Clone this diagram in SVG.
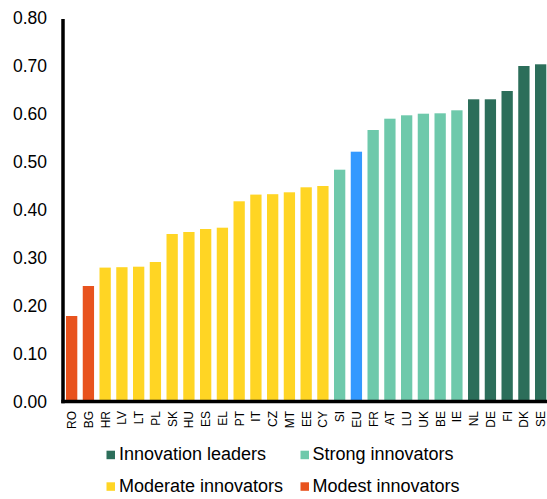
<svg xmlns="http://www.w3.org/2000/svg" width="547" height="499" viewBox="0 0 547 499">
<style>
text{font-family:"Liberation Sans",Arial,sans-serif;fill:#000}
.tick{font-size:17.5px;text-anchor:end}
.cat{font-size:12px;text-anchor:end}
.leg{font-size:18px}
.ax{stroke:#000;stroke-width:3.5;fill:none}
.lead{fill:#2C6E5A}.strong{fill:#6EC9AB}.mod{fill:#FFD524}.modest{fill:#E8531E}.eu{fill:#3399FF}
</style>
<rect width="547" height="499" fill="#fff"/>
<g id="yticks">
<text class="tick" x="47" y="408">0.00</text>
<text class="tick" x="47" y="360">0.10</text>
<text class="tick" x="47" y="312">0.20</text>
<text class="tick" x="47" y="264">0.30</text>
<text class="tick" x="47" y="216">0.40</text>
<text class="tick" x="47" y="168">0.50</text>
<text class="tick" x="47" y="120">0.60</text>
<text class="tick" x="47" y="72">0.70</text>
<text class="tick" x="47" y="24">0.80</text>
</g>
<g id="bars">
<g id="RO"><rect class="modest" x="66" y="316" width="11.3" height="86"/><text class="cat" transform="translate(76,411) rotate(-90)">RO</text></g>
<g id="BG"><rect class="modest" x="82.75" y="286" width="11.3" height="116"/><text class="cat" transform="translate(92.75,411) rotate(-90)">BG</text></g>
<g id="HR"><rect class="mod" x="99.5" y="267.6" width="11.3" height="134.4"/><text class="cat" transform="translate(109.5,411) rotate(-90)">HR</text></g>
<g id="LV"><rect class="mod" x="116.25" y="267.2" width="11.3" height="134.8"/><text class="cat" transform="translate(126.25,411) rotate(-90)">LV</text></g>
<g id="LT"><rect class="mod" x="133" y="266.7" width="11.3" height="135.3"/><text class="cat" transform="translate(143,411) rotate(-90)">LT</text></g>
<g id="PL"><rect class="mod" x="149.75" y="262" width="11.3" height="140"/><text class="cat" transform="translate(159.75,411) rotate(-90)">PL</text></g>
<g id="SK"><rect class="mod" x="166.5" y="234" width="11.3" height="168"/><text class="cat" transform="translate(176.5,411) rotate(-90)">SK</text></g>
<g id="HU"><rect class="mod" x="183.25" y="232" width="11.3" height="170"/><text class="cat" transform="translate(193.25,411) rotate(-90)">HU</text></g>
<g id="ES"><rect class="mod" x="200" y="229" width="11.3" height="173"/><text class="cat" transform="translate(210,411) rotate(-90)">ES</text></g>
<g id="EL"><rect class="mod" x="216.75" y="227.7" width="11.3" height="174.3"/><text class="cat" transform="translate(226.75,411) rotate(-90)">EL</text></g>
<g id="PT"><rect class="mod" x="233.5" y="201.3" width="11.3" height="200.7"/><text class="cat" transform="translate(243.5,411) rotate(-90)">PT</text></g>
<g id="IT"><rect class="mod" x="250.25" y="194.6" width="11.3" height="207.4"/><text class="cat" transform="translate(260.25,411) rotate(-90)">IT</text></g>
<g id="CZ"><rect class="mod" x="267" y="194.2" width="11.3" height="207.8"/><text class="cat" transform="translate(277,411) rotate(-90)">CZ</text></g>
<g id="MT"><rect class="mod" x="283.75" y="192.3" width="11.3" height="209.7"/><text class="cat" transform="translate(293.75,411) rotate(-90)">MT</text></g>
<g id="EE"><rect class="mod" x="300.5" y="187.3" width="11.3" height="214.7"/><text class="cat" transform="translate(310.5,411) rotate(-90)">EE</text></g>
<g id="CY"><rect class="mod" x="317.25" y="186" width="11.3" height="216"/><text class="cat" transform="translate(327.25,411) rotate(-90)">CY</text></g>
<g id="SI"><rect class="strong" x="334" y="169.7" width="11.3" height="232.3"/><text class="cat" transform="translate(344,411) rotate(-90)">SI</text></g>
<g id="EU"><rect class="eu" x="350.75" y="151.7" width="11.3" height="250.3"/><text class="cat" transform="translate(360.75,411) rotate(-90)">EU</text></g>
<g id="FR"><rect class="strong" x="367.5" y="130" width="11.3" height="272"/><text class="cat" transform="translate(377.5,411) rotate(-90)">FR</text></g>
<g id="AT"><rect class="strong" x="384.25" y="118.7" width="11.3" height="283.3"/><text class="cat" transform="translate(394.25,411) rotate(-90)">AT</text></g>
<g id="LU"><rect class="strong" x="401" y="115.3" width="11.3" height="286.7"/><text class="cat" transform="translate(411,411) rotate(-90)">LU</text></g>
<g id="UK"><rect class="strong" x="417.75" y="113.7" width="11.3" height="288.3"/><text class="cat" transform="translate(427.75,411) rotate(-90)">UK</text></g>
<g id="BE"><rect class="strong" x="434.5" y="113.3" width="11.3" height="288.7"/><text class="cat" transform="translate(444.5,411) rotate(-90)">BE</text></g>
<g id="IE"><rect class="strong" x="451.25" y="110.3" width="11.3" height="291.7"/><text class="cat" transform="translate(461.25,411) rotate(-90)">IE</text></g>
<g id="NL"><rect class="lead" x="468" y="99.3" width="11.3" height="302.7"/><text class="cat" transform="translate(478,411) rotate(-90)">NL</text></g>
<g id="DE"><rect class="lead" x="484.75" y="99.3" width="11.3" height="302.7"/><text class="cat" transform="translate(494.75,411) rotate(-90)">DE</text></g>
<g id="FI"><rect class="lead" x="501.5" y="91" width="11.3" height="311"/><text class="cat" transform="translate(511.5,411) rotate(-90)">FI</text></g>
<g id="DK"><rect class="lead" x="518.25" y="66" width="11.3" height="336"/><text class="cat" transform="translate(528.25,411) rotate(-90)">DK</text></g>
<g id="SE"><rect class="lead" x="535" y="64.3" width="11.3" height="337.7"/><text class="cat" transform="translate(545,411) rotate(-90)">SE</text></g>
</g>
<g id="axes">
<line class="ax" x1="63" y1="19" x2="63" y2="403.2"/>
<line class="ax" x1="61.3" y1="401.5" x2="547" y2="401.5"/>
</g>
<g id="legend">
<rect class="lead" x="106.5" y="450.7" width="8.5" height="8.5"/><text class="leg" x="119" y="460">Innovation leaders</text>
<rect class="strong" x="300.5" y="450.7" width="8.5" height="8.5"/><text class="leg" x="312.5" y="460">Strong innovators</text>
<rect class="mod" x="106.5" y="482.3" width="8.5" height="8.5"/><text class="leg" x="119" y="492">Moderate innovators</text>
<rect class="modest" x="300.5" y="482.3" width="8.5" height="8.5"/><text class="leg" x="312.5" y="492">Modest innovators</text>
</g>
</svg>
